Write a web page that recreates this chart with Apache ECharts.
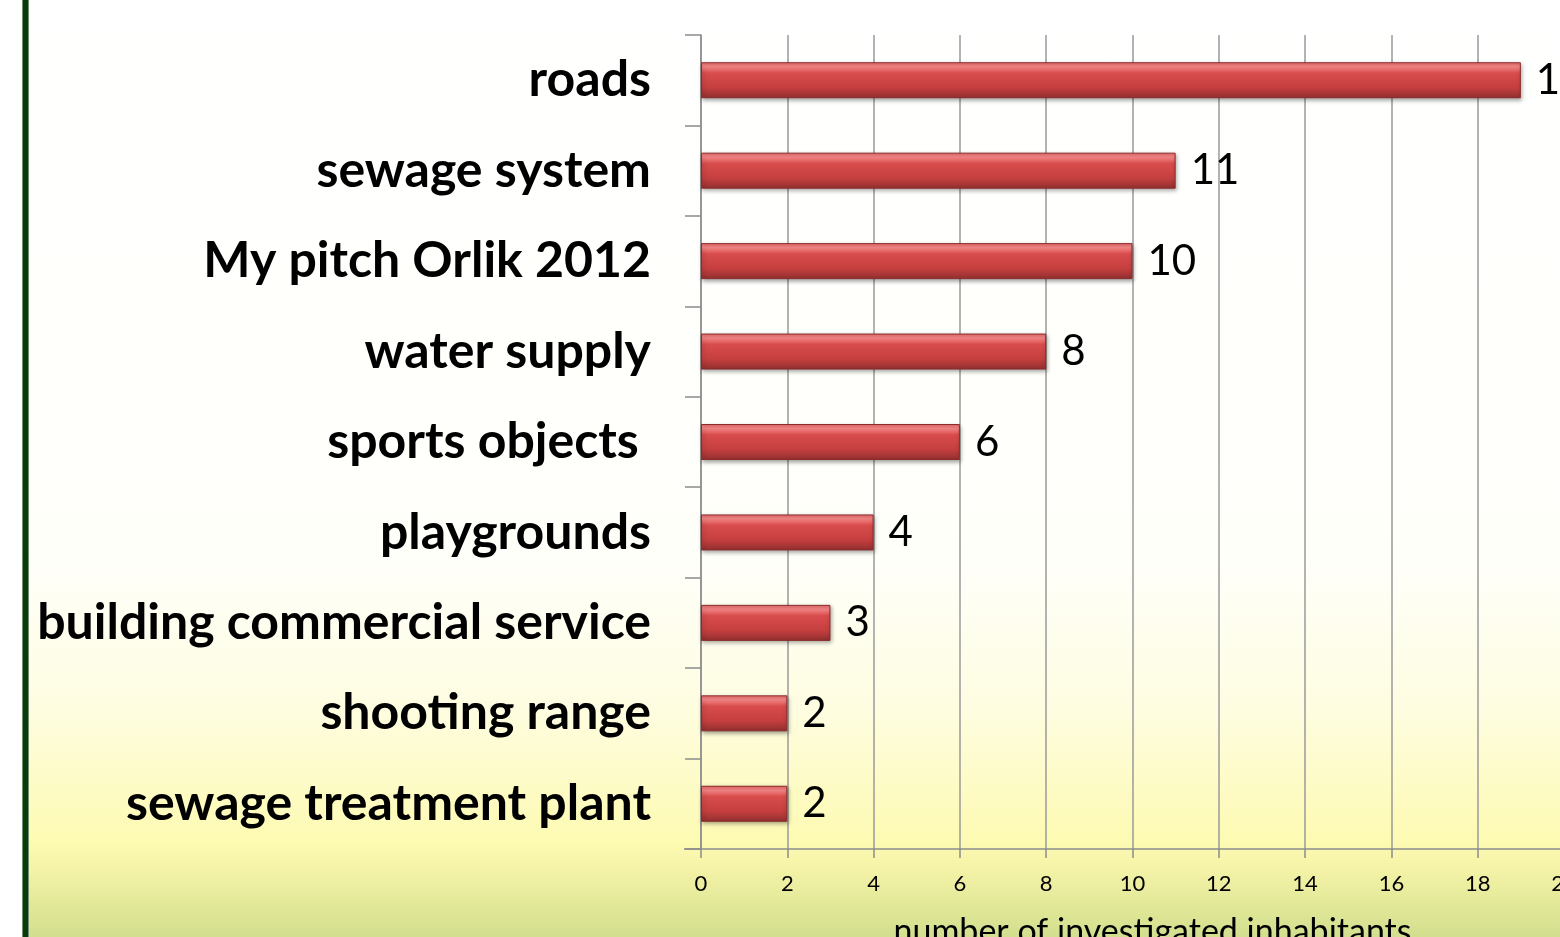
<!DOCTYPE html>
<html><head><meta charset="utf-8">
<script src="https://cdn.jsdelivr.net/npm/echarts@6/dist/echarts.min.js"></script>
<style>html,body{margin:0;padding:0;background:#fff}#c{width:1560px;height:937px}</style>
</head><body><div id="c"></div>
<script>
const categories = ['roads','sewage system','My pitch Orlik 2012','water supply','sports objects ','playgrounds','building commercial service','shooting range','sewage treatment plant'];
const values = [19,11,10,8,6,4,3,2,2];
const xTicks = [0,2,4,6,8,10,12,14,16,18,20];
const axisName = 'number of investigated inhabitants';

const chart = echarts.init(document.getElementById('c'));
chart.setOption({
  animation:false,
  backgroundColor:'#ffffff',
  graphic:[
    {type:'rect',z:-10,silent:true,shape:{x:29,y:0,width:1531,height:937},
     style:{fill:{type:'linear',x:0,y:0,x2:0,y2:1,colorStops:[
       {offset:0,color:'#ffffff'},{offset:0.6,color:'#fffffa'},{offset:0.75,color:'#fefde2'},
       {offset:0.9,color:'#fdfab2'},{offset:0.93,color:'#f3f2a6'},{offset:0.97,color:'#e0e797'},{offset:1,color:'#d2df8e'}]}}},
    {type:'rect',z:-5,silent:true,shape:{x:22,y:0,width:7,height:937},style:{fill:'#6f9070'}},
    {type:'rect',z:-4,silent:true,shape:{x:23,y:0,width:5,height:937},style:{fill:'#0b3a0b'}},
    {type:'line',z:5,silent:true,shape:{x1:684,y1:849,x2:701,y2:849},style:{stroke:'#8c8c8c',lineWidth:1.5}}
  ],
  grid:{left:701,top:35,width:863,height:814,containLabel:false,outerBoundsMode:'none'},
  xAxis:{type:'value',min:xTicks[0],max:xTicks[xTicks.length-1],interval:2,
    axisLine:{show:true,lineStyle:{color:'#8c8c8c',width:1.5}},
    axisTick:{show:true,length:9,lineStyle:{color:'#8c8c8c',width:1.5}},
    splitLine:{show:true,lineStyle:{color:'#9a9a9a',width:1.5}},
    axisLabel:{color:'#000',fontFamily:'Lato',fontSize:22,margin:24},
    name:axisName,nameLocation:'middle',nameGap:66,
    nameTextStyle:{color:'#000',fontFamily:'Lato',fontSize:34,padding:[0,0,0,40]}
  },
  yAxis:{type:'category',data:categories,inverse:true,
    axisLine:{show:true,lineStyle:{color:'#8c8c8c',width:1.5}},
    axisTick:{show:true,length:16,lineStyle:{color:'#8c8c8c',width:1.5}},
    axisLabel:{color:'#000',fontFamily:'Lato',fontWeight:'bold',fontSize:50,margin:50}
  },
  series:[{type:'bar',data:values,barWidth:36,
    itemStyle:{
      color:{type:'linear',x:0,y:0,x2:0,y2:1,colorStops:[
        {offset:0,color:'#e86868'},{offset:0.12,color:'#f78888'},{offset:0.3,color:'#d84c4c'},
        {offset:0.7,color:'#c63f3f'},{offset:1,color:'#922f2f'}]},
      borderColor:'#8a2c2c',borderWidth:1,
      shadowColor:'rgba(0,0,0,0.35)',shadowBlur:4,shadowOffsetY:2,shadowOffsetX:1
    },
    label:{show:true,position:'right',distance:15,color:'#000',fontFamily:'Lato',fontSize:42}
  }]
});
</script></body></html>
